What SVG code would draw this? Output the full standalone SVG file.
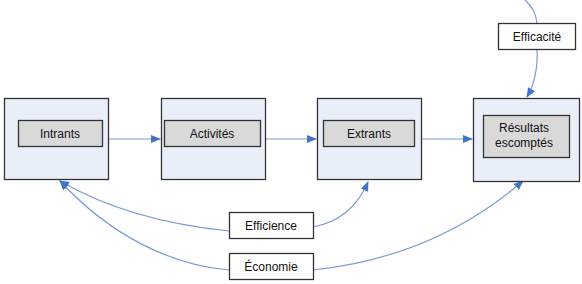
<svg xmlns="http://www.w3.org/2000/svg" width="582" height="284" viewBox="0 0 582 284">
<defs>
<marker id="ah" markerWidth="10" markerHeight="8" refX="9" refY="4" orient="auto" markerUnits="userSpaceOnUse">
<path d="M0,0 L10,4 L0,8 Z" fill="#4472c4"/>
</marker>
<style>
.outer{fill:#e9eff9;stroke:#333;stroke-width:1.3}
.inner{fill:#d9d9d9;stroke:#333;stroke-width:1.3}
.lab{fill:#fff;stroke:#333;stroke-width:1.3}
.t{font-family:"Liberation Sans",Arial,sans-serif;font-size:12px;fill:#111;text-anchor:middle}
.c{fill:none;stroke:#7a9ad4;stroke-width:1.2}
</style>
</defs>
<rect width="582" height="284" fill="#fff"/>
<g id="connectors">
<line class="c" x1="109" y1="139" x2="160" y2="139" marker-end="url(#ah)"/>
<line class="c" x1="266" y1="139" x2="316" y2="139" marker-end="url(#ah)"/>
<line class="c" x1="422" y1="139" x2="472" y2="139" marker-end="url(#ah)"/>
<path class="c" d="M525,0 C532,6 536,14 537,23"/>
<path class="c" d="M537,49 C538,70 534,85 527,97" marker-end="url(#ah)"/>
<path class="c" d="M229,231 C170,225 110,210 60,181" marker-end="url(#ah)"/>
<path class="c" d="M229,270 C170,265 110,235 60,181" marker-end="url(#ah)"/>
<path class="c" d="M313,227 C340,222 358,205 368,182" marker-end="url(#ah)"/>
<path class="c" d="M313,270 C390,262 460,235 523,181" marker-end="url(#ah)"/>
</g>
<g id="intrants">
<rect class="outer" x="4.5" y="98.5" width="104" height="81"/>
<rect class="inner" x="18.5" y="120.5" width="84" height="26"/>
<text class="t" x="60" y="138">Intrants</text>
</g>
<g id="activites">
<rect class="outer" x="161.5" y="98.5" width="104" height="81"/>
<rect class="inner" x="164.5" y="120.5" width="96" height="26"/>
<text class="t" x="212" y="138">Activités</text>
</g>
<g id="extrants">
<rect class="outer" x="317.5" y="98.5" width="104" height="81"/>
<rect class="inner" x="323.5" y="120.5" width="91" height="26"/>
<text class="t" x="369" y="138">Extrants</text>
</g>
<g id="resultats">
<rect class="outer" x="473.5" y="98.5" width="106" height="83"/>
<rect class="inner" x="483.5" y="115.5" width="86" height="42"/>
<text class="t" x="524" y="132">Résultats</text>
<text class="t" x="524" y="147">escomptés</text>
</g>
<g id="efficacite">
<rect class="lab" x="498.5" y="23.5" width="77" height="26"/>
<text class="t" x="537" y="41">Efficacité</text>
</g>
<g id="efficience">
<rect class="lab" x="229.5" y="212.5" width="84" height="26"/>
<text class="t" x="271" y="230">Efficience</text>
</g>
<g id="economie">
<rect class="lab" x="229.5" y="253.5" width="84" height="26"/>
<text class="t" x="271" y="271">Économie</text>
</g>
</svg>
